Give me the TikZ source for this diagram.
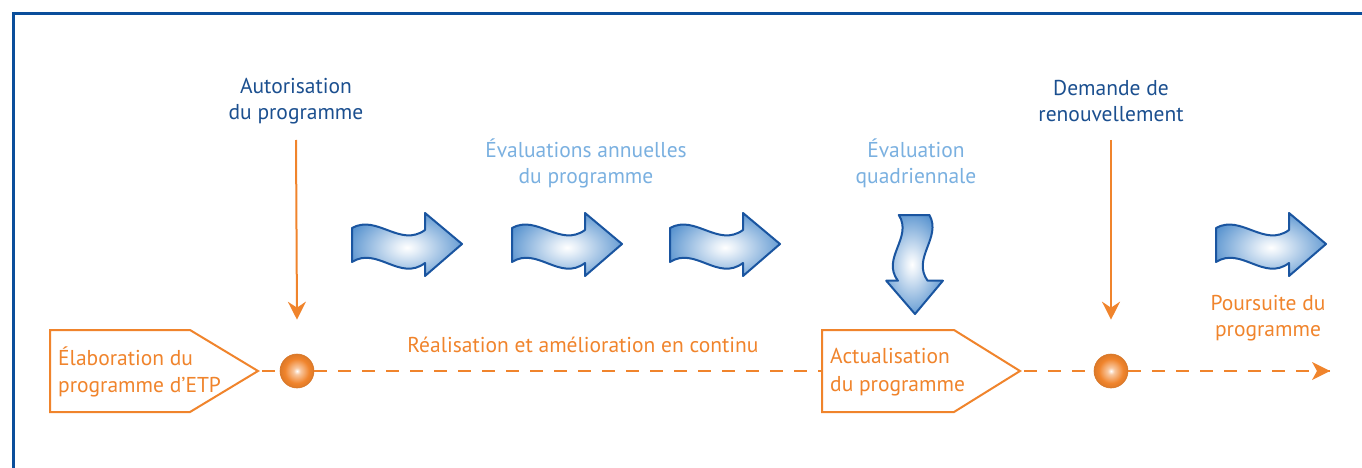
\documentclass[tikz,border=0pt]{standalone}
\usepackage{fontspec}
\setmainfont{PT Sans}
\usetikzlibrary{arrows.meta}
\definecolor{framecol}{HTML}{0A4E9B}
\definecolor{darkbluetxt}{HTML}{1B4F8F}
\definecolor{lightbluetxt}{HTML}{7AB0E0}
\definecolor{arrowblue}{HTML}{4A8ACB}
\definecolor{arrowedge}{HTML}{1A55A0}
\definecolor{orng}{HTML}{F0842C}
\pgfdeclareradialshading{arrowshade}{\pgfpoint{0bp}{0bp}}{color(0bp)=(white); color(5bp)=(white!85!arrowblue); color(30bp)=(arrowblue); color(50bp)=(arrowblue)}
\pgfdeclareradialshading{ballshade}{\pgfpoint{0bp}{0bp}}{color(0bp)=(white); color(5bp)=(white!55!orng); color(18bp)=(orng); color(25bp)=(orng!92!black); color(50bp)=(orng!92!black)}
\tikzset{
  txt/.style={font=\fontsize{21.5}{26}\selectfont, align=center, inner sep=0pt},
  darktxt/.style={txt, text=darkbluetxt},
  lighttxt/.style={txt, text=lightbluetxt},
  orangetxt/.style={txt, text=orng},
  boxtxt/.style={txt, font=\fontsize{21.5}{27.5}\selectfont, text=orng, align=left, anchor=west},
  pentabox/.style={draw=orng, line width=2pt, fill=white, line join=miter},
  downarrow/.style={draw=orng, line width=2pt, -{Stealth[length=18pt,width=18pt,inset=6pt]}},
  dashline/.style={draw=orng, line width=2.2pt, dash pattern=on 13pt off 11pt},
  ball/.style={circle, minimum size=34pt, inner sep=0pt, draw=orng!90!black, line width=0.6pt, shading=ballshade},
  wavy/.pic={
    \path[draw=arrowedge, line width=2pt, line join=round, shading=arrowshade]
      (0,-16) .. controls (25,-30) and (48,4) .. (73,-14)
      -- (73,-31) -- (110,0) -- (73,32) -- (73,19)
      .. controls (48,38) and (25,2) .. (0,18) -- cycle;
  }
}
\begin{document}
\begin{tikzpicture}[x=1pt,y=-1pt]
\useasboundingbox (0,0) rectangle (1362,468);
% frame
\draw[framecol, line width=3pt] (13.5,470) -- (13.5,13.5) -- (1364,13.5);

% top labels
\node[darktxt] (autor) at (296,101) {Autorisation\\du programme};
\node[darktxt] (demande) at (1111,101) {Demande de\\renouvellement};
\node[lighttxt] (evalann) at (586,163) {Évaluations annuelles\\du programme};
\node[lighttxt] (evalquad) at (916,163) {Évaluation\\quadriennale};
\node[orangetxt] (realis) at (583,345) {Réalisation et amélioration en continu};
\node[orangetxt] (poursuite) at (1268,318) {Poursuite du\\programme};

% wavy arrows
\pic at (352,244) {wavy};
\pic at (512,244) {wavy};
\pic at (670,244) {wavy};
\pic at (1216,244) {wavy};
\pic[rotate=-90, scale=0.9] at (915,215) {wavy};

% pentagon boxes
\path[pentabox] (50,330) -- (190,330) -- (258,371) -- (190,412) -- (50,412) -- cycle;
\coordinate (elabtip) at (258,371);
\node[boxtxt] (elab) at (58,372) {Élaboration du\\programme d'ETP};
\path[pentabox] (822,330) -- (954,330) -- (1020,371) -- (954,412) -- (822,412) -- cycle;
\coordinate (actleft) at (822,371);
\coordinate (acttip) at (1020,371);
\node[boxtxt] (actual) at (830,372) {Actualisation\\du programme};

% balls
\node[ball] (ball1) at (297,371) {};
\node[ball] (ball2) at (1111,371) {};
\coordinate (lineend) at (1330,371);

% dashed line
\draw[dashline] (elabtip) ++(4,0) -- (ball1.west);
\draw[dashline] (ball1.east) -- (actleft);
\draw[dashline] (acttip) ++(4,0) -- (ball2.west);
\draw[dashline] (ball2.east) -- (lineend);
\path[fill=orng] (lineend) -- ++(-18,-9) -- ++(5,9) -- ++(-5,9) -- cycle;

% vertical arrows
\coordinate (a1top) at (296,140);
\coordinate (a2top) at (1111,140);
\draw[downarrow] (a1top) -- ([yshift=34pt]ball1.north);
\draw[downarrow] (a2top) -- ([yshift=34pt]ball2.north);
\end{tikzpicture}
\end{document}
